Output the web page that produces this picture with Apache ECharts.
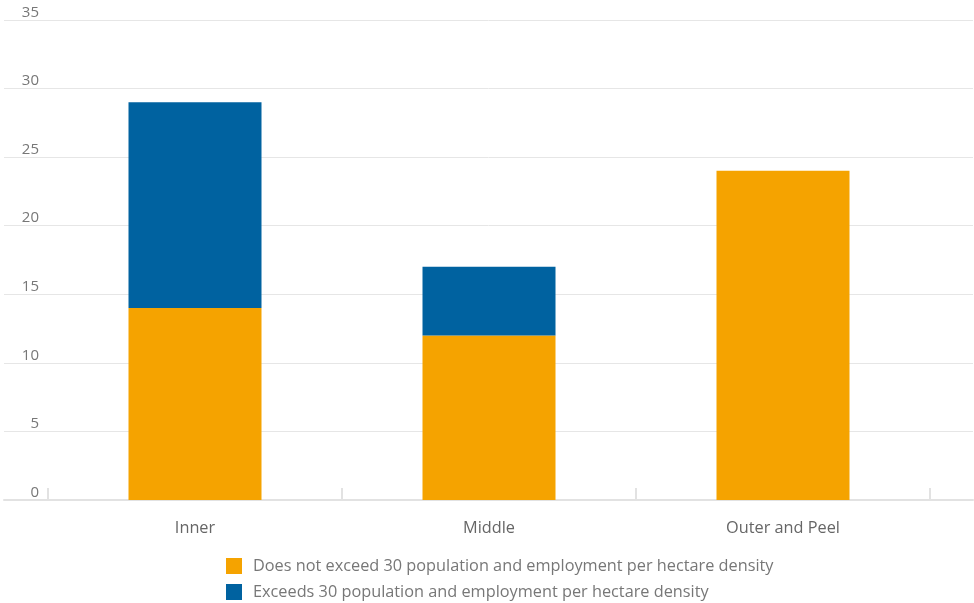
<!DOCTYPE html>
<html><head><meta charset="utf-8">
<script src="https://cdn.jsdelivr.net/npm/echarts@6/dist/echarts.min.js"></script>
<style>html,body{margin:0;padding:0;background:#fff}#c{width:974px;height:603px}</style>
</head><body><div id="c"></div>
<script>
const categories = ['Inner', 'Middle', 'Outer and Peel'];
const notExceed = [14, 12, 24];
const exceeds = [15, 5, 0];
const seriesNames = ['Does not exceed 30 population and employment per hectare density', 'Exceeds 30 population and employment per hectare density'];
const yTicks = [0, 5, 10, 15, 20, 25, 30, 35];

const FONT = 'Open Sans';
const chart = echarts.init(document.getElementById('c'));
const legendBase = {
  orient: 'vertical', left: 221, itemWidth: 16, itemHeight: 16,
  icon: 'rect', textStyle: { color: '#777', fontSize: 16.3, fontFamily: FONT, padding: [0, 0, 0, 6] }
};
chart.setOption({
  animation: false,
  textStyle: { fontFamily: FONT },
  grid: [
    { left: 4, right: 1, top: 20, bottom: 103 },
    { left: 48, right: 44, top: 20, bottom: 103 }
  ],
  xAxis: [
    { gridIndex: 0, type: 'value', min: 0, max: 1, axisLine: { show: true, lineStyle: { color: '#e2e2e2', width: 2 } }, axisTick: { show: false }, axisLabel: { show: false }, splitLine: { show: false } },
    { gridIndex: 1, type: 'category', data: categories, axisLine: { show: false },
      axisTick: { show: true, inside: true, length: 12, lineStyle: { color: '#e2e2e2', width: 2 } },
      axisLabel: { color: '#666', fontSize: 16.3, margin: 20, fontFamily: FONT } }
  ],
  yAxis: [
    { gridIndex: 0, type: 'value', min: 0, max: 35, interval: 5, axisLine: { show: false }, axisTick: { show: false }, axisLabel: { show: false },
      splitLine: { show: true, lineStyle: { color: '#e6e6e6', width: 1 } } },
    { gridIndex: 1, type: 'value', min: 0, max: 35, interval: 5, axisLine: { show: false }, axisTick: { show: false }, splitLine: { show: false },
      axisLabel: { color: '#777', fontSize: 15, margin: 9, verticalAlign: 'bottom', padding: [0, 0, 0, 0], fontFamily: FONT,
        formatter: v => yTicks.includes(v) ? String(v) : '' } }
  ],
  legend: [
    Object.assign({}, legendBase, { top: 553, data: [seriesNames[0]] }),
    Object.assign({}, legendBase, { top: 579, data: [seriesNames[1]] })
  ],
  series: [
    { name: seriesNames[0], type: 'bar', stack: 's', xAxisIndex: 1, yAxisIndex: 1, barWidth: 133, data: notExceed, itemStyle: { color: '#F5A300' } },
    { name: seriesNames[1], type: 'bar', stack: 's', xAxisIndex: 1, yAxisIndex: 1, barWidth: 133, data: exceeds, itemStyle: { color: '#0062A0' } }
  ]
});
</script></body></html>
